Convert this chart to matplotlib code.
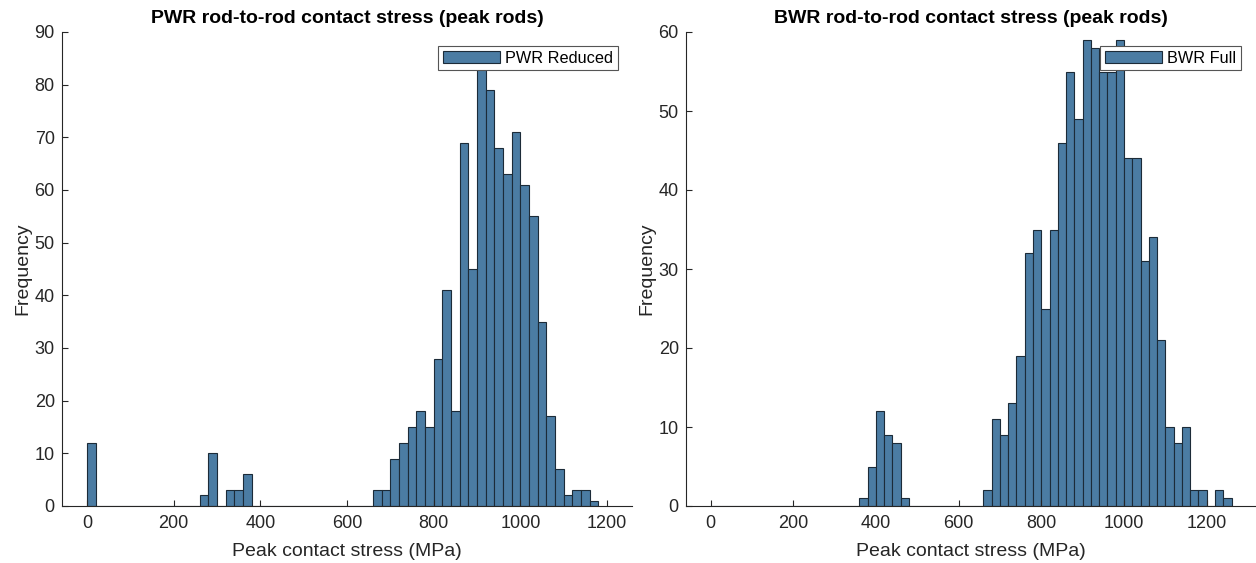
import matplotlib
matplotlib.use("Agg")
import matplotlib.pyplot as plt
import numpy as np

plt.rcParams['font.family'] = ['Liberation Sans', 'DejaVu Sans']

# ---------------- data ----------------
bin_width = 20  # MPa

# PWR Reduced: counts for bins [0,20), [20,40), ..., [1160,1180)
pwr_counts = [12, 0, 0, 0, 0, 0, 0, 0, 0, 0,
              0, 0, 0, 2, 10, 0, 3, 3, 6, 0,
              0, 0, 0, 0, 0, 0, 0, 0, 0, 0,
              0, 0, 0, 3, 3, 9, 12, 15, 18, 15,
              28, 41, 18, 69, 45, 83, 79, 68, 63, 71,
              61, 55, 35, 17, 7, 2, 3, 3, 1]

# BWR Full: counts for bins [0,20), ..., [1240,1260)
bwr_counts = [0, 0, 0, 0, 0, 0, 0, 0, 0, 0,
              0, 0, 0, 0, 0, 0, 0, 0, 1, 5,
              12, 9, 8, 1, 0, 0, 0, 0, 0, 0,
              0, 0, 0, 2, 11, 9, 13, 19, 32, 35,
              25, 35, 46, 55, 49, 59, 58, 55, 55, 59,
              44, 44, 31, 34, 21, 10, 8, 10, 2, 2,
              0, 2, 1]

titles = ["PWR rod-to-rod contact stress (peak rods)",
          "BWR rod-to-rod contact stress (peak rods)"]
legend_labels = ["PWR Reduced", "BWR Full"]
xlabel = "Peak contact stress (MPa)"
ylabel = "Frequency"
xticks = [0, 200, 400, 600, 800, 1000, 1200]
pwr_yticks = [0, 10, 20, 30, 40, 50, 60, 70, 80, 90]
bwr_yticks = [0, 10, 20, 30, 40, 50, 60]

# ---------------- style ----------------
W, H = 1256, 563
fig = plt.figure(figsize=(W / 100, H / 100), dpi=100)

face = '#4b7ca3'
edge = '#1c2b38'
axcol = '#262626'

panels = [
    dict(counts=pwr_counts, title=titles[0], label=legend_labels[0],
         yticks=pwr_yticks, ylim=(0, 90), xlim=(-58, 1258),
         px=(61.7, 632.3)),
    dict(counts=bwr_counts, title=titles[1], label=legend_labels[1],
         yticks=bwr_yticks, ylim=(0, 60), xlim=(-60, 1318),
         px=(685.7, 1255.5)),
]

y_top, y_bot = 32.0, 506.0
for p in panels:
    x0, x1 = p['px']
    ax = fig.add_axes([x0 / W, (H - y_bot) / H, (x1 - x0) / W, (y_bot - y_top) / H])
    counts = np.array(p['counts'])
    lefts = np.arange(len(counts)) * bin_width
    ax.bar(lefts, counts, width=bin_width, align='edge', color=face,
           edgecolor=edge, linewidth=0.8, label=p['label'])
    ax.set_xlim(*p['xlim'])
    ax.set_ylim(*p['ylim'])
    ax.set_xticks(xticks)
    ax.set_yticks(p['yticks'])
    for s in ['top', 'right']:
        ax.spines[s].set_visible(False)
    for s in ['left', 'bottom']:
        ax.spines[s].set_color(axcol)
        ax.spines[s].set_linewidth(0.8)
    ax.tick_params(direction='in', length=4, width=0.8, colors=axcol,
                   labelsize=13)
    ax.tick_params(axis='x', pad=6.5)
    ax.tick_params(axis='y', pad=5)
    ax.set_xlabel(xlabel, fontsize=14, color=axcol, labelpad=8)
    ax.set_ylabel(ylabel, fontsize=14, color=axcol, labelpad=2.5)
    ax.set_title(p['title'], fontsize=14, fontweight='bold', color='black', pad=6.5)
    leg = ax.legend(loc='upper right', bbox_to_anchor=(1 - 14.6 / (x1 - x0), 1 - 13.7 / (y_bot - y_top)),
                    borderaxespad=0, fontsize=11.7, fancybox=False, framealpha=1,
                    edgecolor='#555555', handlelength=3.5, handleheight=0.8,
                    handletextpad=0.3, borderpad=0.3)
    leg.get_frame().set_linewidth(0.8)

fig.savefig('out.png', dpi=100)
